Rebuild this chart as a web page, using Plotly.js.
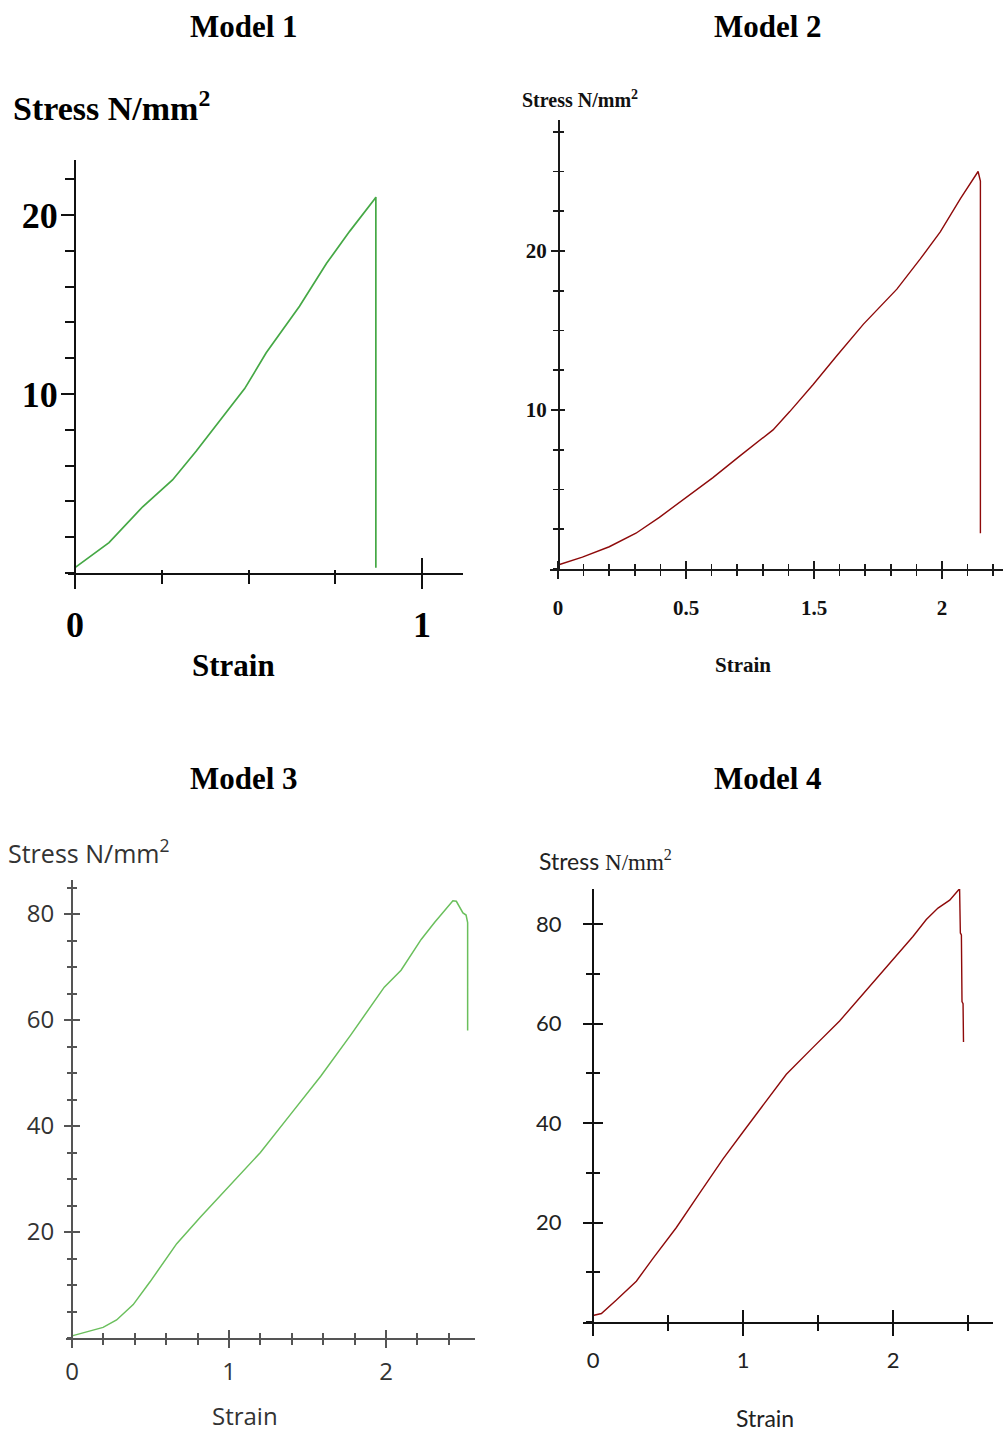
<!DOCTYPE html>
<html>
<head>
<meta charset="utf-8">
<script src="https://cdn.plot.ly/plotly-3.0.1.min.js"></script>
<style>html,body{margin:0;padding:0;background:#fff}</style>
</head>
<body>
<div id="chart" style="width:1005px;height:1432px"></div>
<script>
// Tensile test readings (strain, stress in N/mm²) for each model
const model1Strain = [0, 0.098, 0.195, 0.281, 0.349, 0.416, 0.489, 0.551, 0.599, 0.647, 0.725, 0.792, 0.864, 0.867, 0.867];
const model1Stress = [0.3, 1.7, 3.7, 5.2, 6.8, 8.5, 10.3, 12.3, 13.6, 14.9, 17.3, 19.1, 20.9, 21.0, 0.3];

const model2Strain = [0, 0.127, 0.267, 0.406, 0.528, 0.667, 0.807, 0.946, 1.12, 1.207, 1.329, 1.451, 1.591, 1.765, 1.887, 1.991, 2.096, 2.188, 2.2, 2.2];
const model2Stress = [0.25, 0.75, 1.4, 2.25, 3.25, 4.5, 5.75, 7.1, 8.75, 9.9, 11.6, 13.4, 15.4, 17.6, 19.5, 21.2, 23.3, 25.0, 24.4, 2.25];

const model3Strain = [0, 0.092, 0.198, 0.284, 0.39, 0.497, 0.667, 0.817, 1.0, 1.2, 1.392, 1.584, 1.776, 1.989, 2.096, 2.224, 2.309, 2.426, 2.448, 2.49, 2.51, 2.52, 2.52];
const model3Stress = [0.4, 1.1, 2.0, 3.4, 6.3, 10.6, 17.8, 22.8, 28.6, 35.0, 42.2, 49.4, 57.2, 66.2, 69.4, 75.2, 78.4, 82.5, 82.4, 80.2, 79.8, 78.4, 58];

const model4Strain = [0, 0.056, 0.156, 0.289, 0.4, 0.556, 0.711, 0.867, 1.0, 1.133, 1.289, 1.467, 1.644, 1.822, 2.0, 2.133, 2.222, 2.3, 2.378, 2.444, 2.449, 2.456, 2.46, 2.467, 2.47];
const model4Stress = [1.3, 1.7, 4.4, 8.2, 12.8, 19.0, 25.9, 32.8, 38.2, 43.6, 49.8, 55.2, 60.5, 66.7, 72.8, 77.5, 80.9, 83.2, 84.8, 87.1, 78.2, 77.8, 64.4, 64.0, 56.3];

// Titles and axis texts
const modelNames = ['Model 1', 'Model 2', 'Model 3', 'Model 4'];
const strainLabel = 'Strain';

// Tick values and tick texts
const model1XTicks = [0, 1];
const model1XText = ['0', '1'];
const model1YTicks = [10, 20];
const model2XTicks = [0, 2 / 3, 4 / 3, 2];
const model2XText = ['0', '0.5', '1.5', '2'];
const model2YTicks = [10, 20];
const model3XTicks = [0, 1, 2];
const model3YTicks = [20, 40, 60, 80];
const model4XTicks = [0, 1, 2];
const model4YTicks = [20, 40, 60, 80];

const W = 1005, H = 1432;

// Panel geometry (pixels) and styling
const panels = [
  {
    strain: model1Strain, stress: model1Stress, color: '#45a845', width: 1.7,
    left: 68, right: 463, zeroX: 75, unitX: 347, top: 160, bottom: 573, unitY: 17.9,
    axisColor: '#111', axisWidth: 2,
    xVals: model1XTicks, xText: model1XText, xMinor: 0.25,
    xOut: 14, xIn: 0, xMinOut: 9, xMinIn: 3, xInVals: [1], xInLen: 15,
    yVals: model1YTicks, yMinor: 2, yOut: 13, yIn: 0, yMinOut: 9, yMinIn: 0,
    font: {family: 'Liberation Serif', size: 36, color: '#000', weight: 'bold'},
    xStand: 5, yStand: -4
  },
  {
    strain: model2Strain, stress: model2Stress, color: '#8e0a0a', width: 1.4,
    left: 550, right: 1003, zeroX: 558, unitX: 192, top: 120, bottom: 569, unitY: 15.9,
    axisColor: '#1a1a1a', axisWidth: 1.6,
    xVals: model2XTicks, xText: model2XText, xMinor: 2 / 15,
    xOut: 8, xIn: 8, xMinOut: 5, xMinIn: 5,
    yVals: model2YTicks, yMinor: 2.5, yOut: 7, yIn: 6, yMinOut: 5, yMinIn: 5,
    font: {family: 'Liberation Serif', size: 21, color: '#111', weight: 'bold'},
    xStand: 11, yStand: 0
  },
  {
    strain: model3Strain, stress: model3Stress, color: '#6abf5c', width: 1.5,
    left: 66, right: 475, zeroX: 72, unitX: 157, top: 880, bottom: 1338, unitY: 5.3,
    axisColor: '#555', axisWidth: 2,
    xVals: model3XTicks, xMinor: 0.2,
    xOut: 8, xIn: 8, xMinOut: 5, xMinIn: 5,
    yVals: model3YTicks, yMinor: 5, yOut: 7, yIn: 7, yMinOut: 4, yMinIn: 4,
    font: {family: 'Open Sans', size: 24, color: '#333'},
    xStand: 3, yStand: 5
  },
  {
    strain: model4Strain, stress: model4Stress, color: '#8e0a0a', width: 1.4,
    left: 583, right: 993, zeroX: 593, unitX: 150, top: 889, bottom: 1322, unitY: 4.975,
    axisColor: '#111', axisWidth: 2,
    xVals: model4XTicks, xMinor: 0.5,
    xOut: 12, xIn: 12, xMinOut: 7, xMinIn: 7,
    yVals: model4YTicks, yMinor: 10, yOut: 9, yIn: 9, yMinOut: 6, yMinIn: 6,
    font: {family: 'Lato', size: 22, color: '#222'},
    xStand: 6, yStand: 17
  }
];

const traces = [];
const layout = {
  width: W, height: H,
  margin: {l: 0, r: 0, t: 0, b: 0},
  paper_bgcolor: '#fff', plot_bgcolor: 'rgba(0,0,0,0)',
  showlegend: false,
  annotations: []
};

function tickStyle(p) {
  return {tickcolor: p.axisColor, tickwidth: p.axisWidth};
}

panels.forEach((p, i) => {
  const k = i + 1, o = i + 5;
  const xr = [(p.left - p.zeroX) / p.unitX, (p.right - p.zeroX) / p.unitX];
  const yr = [0, (p.bottom - p.top) / p.unitY];
  const xd = [p.left / W, p.right / W];
  const yd = [1 - p.bottom / H, 1 - p.top / H];
  const ts = tickStyle(p);

  traces.push({
    x: p.strain, y: p.stress, xaxis: 'x' + k, yaxis: 'y' + k,
    type: 'scatter', mode: 'lines',
    line: {color: p.color, width: p.width},
    hoverinfo: 'skip'
  });
  // companion axes carrying the inward half of each tick
  traces.push({x: [], y: [], xaxis: 'x' + o, yaxis: 'y' + o, type: 'scatter', mode: 'lines', hoverinfo: 'skip'});

  const base = {showgrid: false, zeroline: false, fixedrange: true};

  layout['xaxis' + k] = Object.assign({}, base, ts, {
    domain: xd, range: xr, anchor: 'y' + k,
    showline: true, linecolor: p.axisColor, linewidth: p.axisWidth,
    ticks: 'outside', ticklen: p.xOut,
    tickmode: 'array', tickvals: p.xVals, ticktext: p.xText || p.xVals.map(String),
    tickfont: p.font, ticklabelstandoff: p.xStand,
    minor: Object.assign({tickmode: 'linear', tick0: 0, dtick: p.xMinor, ticks: 'outside', ticklen: p.xMinOut}, ts)
  });
  layout['yaxis' + k] = Object.assign({}, base, ts, {
    domain: yd, range: yr, anchor: 'free', position: p.zeroX / W,
    showline: true, linecolor: p.axisColor, linewidth: p.axisWidth,
    ticks: 'outside', ticklen: p.yOut,
    tickmode: 'array', tickvals: p.yVals, ticktext: p.yVals.map(String),
    tickfont: p.font, ticklabelstandoff: p.yStand,
    minor: Object.assign({tickmode: 'linear', tick0: 0, dtick: p.yMinor, ticks: 'outside', ticklen: p.yMinOut}, ts)
  });

  const xInVals = p.xInVals || p.xVals;
  const xInLen = p.xInLen || p.xIn;
  layout['xaxis' + o] = Object.assign({}, base, ts, {
    overlaying: 'x' + k, domain: xd, range: xr, anchor: 'y' + o,
    showline: false, showticklabels: false,
    ticks: xInLen ? 'inside' : '', ticklen: xInLen,
    tickmode: 'array', tickvals: xInVals,
    minor: Object.assign({tickmode: 'linear', tick0: 0, dtick: p.xMinor, ticks: p.xMinIn ? 'inside' : '', ticklen: p.xMinIn}, ts)
  });
  layout['yaxis' + o] = Object.assign({}, base, ts, {
    overlaying: 'y' + k, domain: yd, range: yr, anchor: 'free', position: p.zeroX / W,
    showline: false, showticklabels: false,
    ticks: p.yIn ? 'inside' : '', ticklen: p.yIn,
    tickmode: 'array', tickvals: p.yVals,
    minor: Object.assign({tickmode: 'linear', tick0: 0, dtick: p.yMinor, ticks: p.yMinIn ? 'inside' : '', ticklen: p.yMinIn}, ts)
  });
});

// Panel headings
const headPos = [[244, 26], [768, 26], [244, 778], [768, 778]];
modelNames.forEach((name, i) => {
  layout.annotations.push({
    text: name, xref: 'paper', yref: 'paper',
    x: headPos[i][0] / W, y: 1 - headPos[i][1] / H,
    xanchor: 'center', yanchor: 'middle', showarrow: false,
    font: {family: 'Liberation Serif', size: 31, color: '#000', weight: 'bold'}
  });
});

// Axis captions
const captions = [
  {text: 'Stress N/mm<sup>2</sup>', x: 11, y: 106, anchor: 'left',
   font: {family: 'Liberation Serif', size: 34, color: '#000', weight: 'bold'}},
  {text: strainLabel, x: 233, y: 665, anchor: 'center',
   font: {family: 'Liberation Serif', size: 31, color: '#000', weight: 'bold'}},
  {text: 'Stress N/mm<sup>2</sup>', x: 520, y: 99, anchor: 'left',
   font: {family: 'Liberation Serif', size: 20, color: '#111', weight: 'bold'}},
  {text: strainLabel, x: 743, y: 665, anchor: 'center',
   font: {family: 'Liberation Serif', size: 21, color: '#111', weight: 'bold'}},
  {text: 'Stress N/mm<sup>2</sup>', x: 6, y: 852, anchor: 'left',
   font: {family: 'Open Sans', size: 25, color: '#333'}},
  {text: strainLabel, x: 245, y: 1415, anchor: 'center',
   font: {family: 'Open Sans', size: 24, color: '#333'}},
  {text: 'Stress <span style="font-family:Liberation Serif">N/mm<sup>2</sup></span>', x: 537, y: 860, anchor: 'left',
   font: {family: 'Lato', size: 23, color: '#222'}},
  {text: strainLabel, x: 765, y: 1418, anchor: 'center',
   font: {family: 'Lato', size: 23, color: '#222'}}
];
captions.forEach(c => {
  layout.annotations.push({
    text: c.text, xref: 'paper', yref: 'paper',
    x: c.x / W, y: 1 - c.y / H,
    xanchor: c.anchor, yanchor: 'middle', showarrow: false,
    font: c.font
  });
});

Plotly.newPlot('chart', traces, layout, {staticPlot: true, displayModeBar: false});
</script>
</body>
</html>
